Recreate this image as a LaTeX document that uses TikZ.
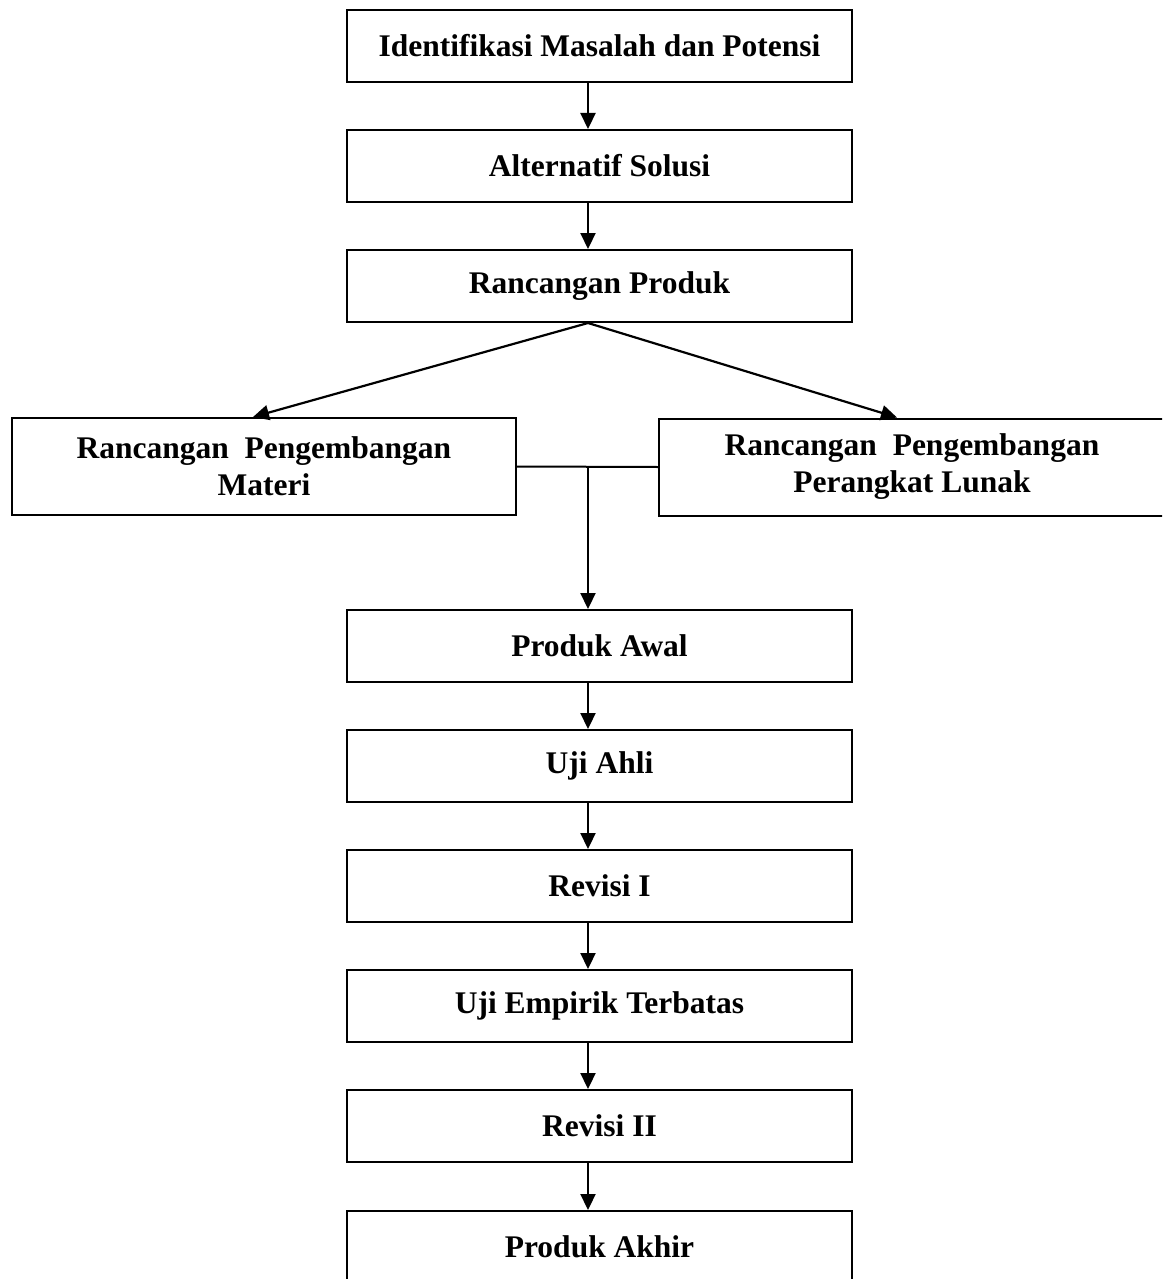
\documentclass[tikz,border=0pt]{standalone}
\usepackage{fontspec}
\setmainfont{Liberation Serif}
\usetikzlibrary{arrows.meta,calc}
\begin{document}
\begin{tikzpicture}[x=1pt,y=-1pt,
  box/.style={draw,line width=2pt,minimum width=505pt,minimum height=72pt,inner sep=0pt,align=center,font=\fontsize{31.5}{37}\selectfont\bfseries},
  wbox/.style={draw,line width=2pt,minimum width=504pt,minimum height=97pt,inner sep=0pt,align=center,font=\fontsize{31.5}{37}\selectfont\bfseries},
  arr/.style={line width=2.2pt,-{Triangle[length=16pt,width=15pt]}},
  ln/.style={line width=2pt}]
\useasboundingbox (0,0) rectangle (1162,1279);
\clip (0,0) rectangle (1162,1279);
\coordinate (axis) at (588,0);
\node[box] (b1) at (599.5,46) {Identifikasi Masalah dan Potensi};
\node[box] (b2) at (599.5,166) {Alternatif Solusi};
\node[box] (b3) at (599.5,286) {Rancangan Produk};
\node[wbox] (l) at (264,466.5) {Rancangan\ \ Pengembangan\\Materi};
\node[wbox,minimum width=506pt] (r) at (912,467) {Rancangan\ \ Pengembangan\\Perangkat Lunak};
\node[box] (pa) at (599.5,646) {Produk Awal};
\node[box] (ua) at (599.5,766) {Uji Ahli};
\node[box] (r1) at (599.5,886) {Revisi I};
\node[box] (ue) at (599.5,1006) {Uji Empirik Terbatas};
\node[box] (r2) at (599.5,1126) {Revisi II};
\node[box] (pk) at (599.5,1247) {Produk Akhir};
\coordinate (lt) at ($(l.north)+(-11,0)$);
\coordinate (rt) at ($(r.north)+(-15,0)$);
\draw[arr] (b1.south -| axis) -- (b2.north -| axis);
\draw[arr] (b2.south -| axis) -- (b3.north -| axis);
\draw[arr] (b3.south -| axis) -- (lt);
\draw[arr] (b3.south -| axis) -- (rt);
\draw[ln] (l.east) -- (r.west);
\draw[arr] (axis |- l.east) -- (pa.north -| axis);
\draw[arr] (pa.south -| axis) -- (ua.north -| axis);
\draw[arr] (ua.south -| axis) -- (r1.north -| axis);
\draw[arr] (r1.south -| axis) -- (ue.north -| axis);
\draw[arr] (ue.south -| axis) -- (r2.north -| axis);
\draw[arr] (r2.south -| axis) -- (pk.north -| axis);
\end{tikzpicture}
\end{document}
